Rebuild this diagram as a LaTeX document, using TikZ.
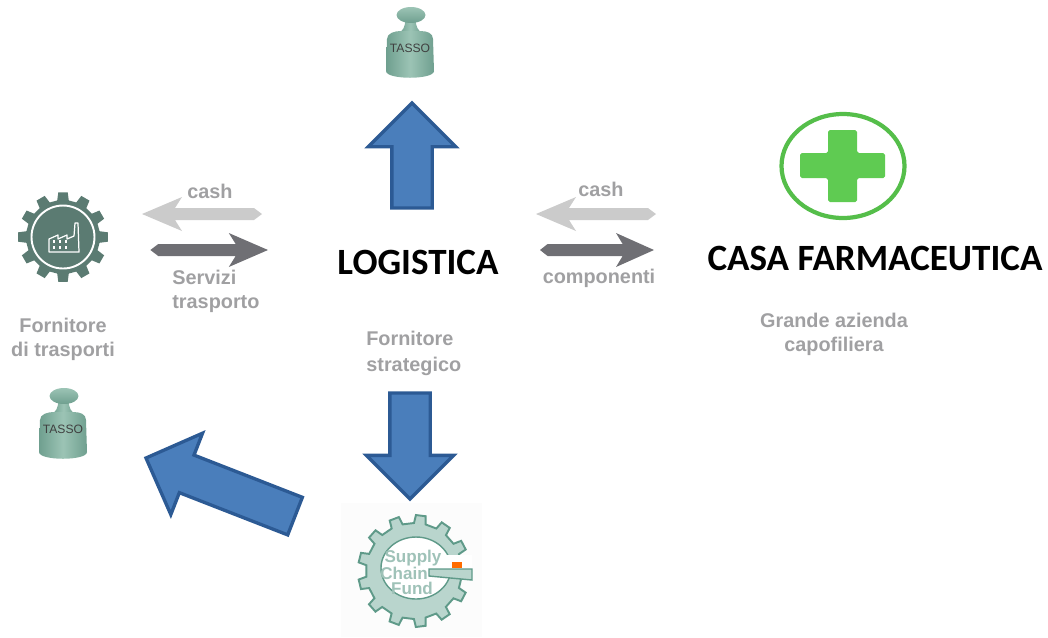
\documentclass[tikz,border=0pt]{standalone}
\usepackage{fontspec}
\setmainfont{Liberation Sans}
\newfontfamily\titlefont{Carlito}
\usetikzlibrary{shapes.arrows}
\definecolor{bluefill}{HTML}{4A7EBB}
\definecolor{blueline}{HTML}{2C5A94}
\definecolor{labelgrey}{HTML}{A0A0A2}
\definecolor{cashgrey}{HTML}{CBCBCB}
\definecolor{goodsgrey}{HTML}{6F6F74}
\definecolor{gearfill}{HTML}{5B7B72}
\definecolor{fundfill}{HTML}{B9D5CD}
\definecolor{fundline}{HTML}{5F9A89}
\definecolor{tassodark}{HTML}{6F9F8F}
\definecolor{tassolight}{HTML}{9CC4B5}
\definecolor{crossgreen}{HTML}{5FCB52}
\definecolor{ringgreen}{HTML}{55BE4A}
\tikzset{
    bigarrow/.style={draw=blueline, fill=bluefill, line width=1.9pt, single arrow, anchor=tip, inner xsep=0pt, inner ysep=0.37cm, outer sep=0pt, minimum width=1.68cm, single arrow head extend=0.47cm, single arrow tip angle=90},
    greylabel/.style={text=labelgrey, font=\fontsize{11.3}{13.6}\selectfont\bfseries, inner sep=0pt},
    titlelabel/.style={text=black, font=\titlefont\fontsize{21.1}{25}\selectfont\bfseries, inner sep=0pt},
    flowarrow/.pic={
        \path[pic actions] (0,0) -- (40,-17) -- (33,-6) -- (112,-6) -- (120,0) -- (112,6) -- (33,6) -- (40,17) -- cycle;
    },
    tassopic/.pic={
        \path[left color=tassodark, right color=tassodark, middle color=tassolight] (-6,4) .. controls (-5,12) and (-9,16) .. (-12,18) -- (11,18) .. controls (8,16) and (4,12) .. (5,4) -- cycle;
        \path[left color=tassodark, right color=tassodark, middle color=tassolight] (-24,24) .. controls (-24,18) and (-16,16) .. (-10,16) -- (9,16) .. controls (16,16) and (22,18) .. (22,24) -- (23,56) .. controls (23,65) and (-25,65) .. (-25,56) -- cycle;
        \path[top color=tassolight, bottom color=tassodark] (0,0) ellipse (14.5 and 8);
        \node(-text) at (-1,33) [inner sep=0pt, text=black!75, font=\fontsize{6.9}{8}\selectfont] {TASSO};
    },
}
\begin{document}
\begin{tikzpicture}[x=0.02cm, y=-0.02cm]
    \useasboundingbox (0,0) rectangle (1048,637);

    % titles
    \node(logistica) at (418,262) [titlelabel] {LOGISTICA};
    \node(casa) at (875,258) [titlelabel] {CASA FARMACEUTICA};

    % grey labels
    \node(cash_left) at (210,191) [greylabel] {cash};
    \node(cash_right) at (601,189) [greylabel] {cash};
    \node(servizi) at (172,291) [greylabel, anchor=west, align=left] {Servizi\\trasporto};
    \node(componenti) at (599,278) [greylabel] {componenti};
    \node(fornitore_tr) at (63,339) [greylabel, align=center] {Fornitore\\di trasporti};
    \node(fornitore_st) at (366,353) [greylabel, anchor=west, align=left] {Fornitore\\[1.1pt]strategico};
    \node(grande) at (834,334) [greylabel, align=center] {Grande azienda\\capofiliera};

    % flows
    \pic(flow_cash_left) at (142,214) [fill=cashgrey] {flowarrow};
    \pic(flow_cash_right) at (536,214) [fill=cashgrey] {flowarrow};
    \pic(flow_serv) at (268,250) [fill=goodsgrey, xscale=-0.98] {flowarrow};
    \pic(flow_comp) at (654,250) [fill=goodsgrey, xscale=-0.95] {flowarrow};

    % big arrows
    \node(up_arrow) at (412,103) [bigarrow, rotate=90, minimum height=2.1cm] {};
    \node(down_arrow) at (410,499) [bigarrow, rotate=-90, minimum height=2.12cm] {};
    \node(back_arrow) at (146,458) [bigarrow, rotate=158.7, minimum height=3.2cm] {};

    % weights
    \pic(tasso_top) at (411,15) {tassopic};
    \pic(tasso_left) at (64,396) {tassopic};

    % transport supplier gear
    \begin{scope}[shift={(63,237)}]
        \fill[gearfill] (81:37) \foreach \a in {90,120,...,420} { -- ({\a-9}:37) -- ({\a-6}:45) -- ({\a+6}:45) -- ({\a+9}:37)} -- cycle;
        \draw[white, line width=1.1pt] (0,0) circle (31.5);
        \draw[white, line width=0.7pt, line join=round] (-14,15) -- (-14,2) -- (-5,-2) -- (-5,2) -- (4,-2) -- (4,2) -- (11,-1) -- (12,-14) -- (15,-14) -- (16,15) -- cycle;
        \foreach \px in {-9,-3,3} {
            \foreach \py in {4,10} {
                \fill[white] (\px-1,\py-1.5) rectangle (\px+1,\py+1.5);
            }
        }
    \end{scope}

    % green cross
    \draw[ringgreen, line width=2.4pt] (843,166) ellipse (61.5 and 52);
    \fill[crossgreen, rounded corners=1pt] (828,130) -- (857,130) -- (857,153) -- (885,153) -- (885,178) -- (857,178) -- (857,202) -- (828,202) -- (828,178) -- (800,178) -- (800,153) -- (828,153) -- cycle;

    % fund gear
    \fill[black!1] (341,503) rectangle (482,637);
    \begin{scope}[shift={(414,571)}]
        \draw[fundline, fill=fundfill, line width=1.1pt] (-7:48) \foreach \a in {0,27.7,...,340} { -- ({\a-7}:48) -- ({\a-5}:56) -- ({\a+5}:56) -- ({\a+7}:48)} -- cycle;
        \draw[fundline, fill=white, line width=0.8pt] (2,-3) ellipse (35 and 31);
        \fill[white] (30,-16) rectangle (58,-2);
        \fill[orange!85!red] (38,-9) rectangle (48,-3);
        \draw[fundline, fill=fundfill, line width=0.8pt] (15,-2) -- (58,-2) -- (58,9) -- (15,5) -- cycle;
        \node(fund_supply) at (-1,-13) [inner sep=0pt, text=fundline!60, font=\fontsize{9.7}{11}\selectfont\bfseries] {Supply};
        \node(fund_chain) at (-10,2) [inner sep=0pt, text=fundline!60, font=\fontsize{9.7}{11}\selectfont\bfseries] {Chain};
        \node(fund_fund) at (-2,17) [inner sep=0pt, text=fundline!60, font=\fontsize{9.7}{11}\selectfont\bfseries] {Fund};
    \end{scope}
\end{tikzpicture}
\end{document}
